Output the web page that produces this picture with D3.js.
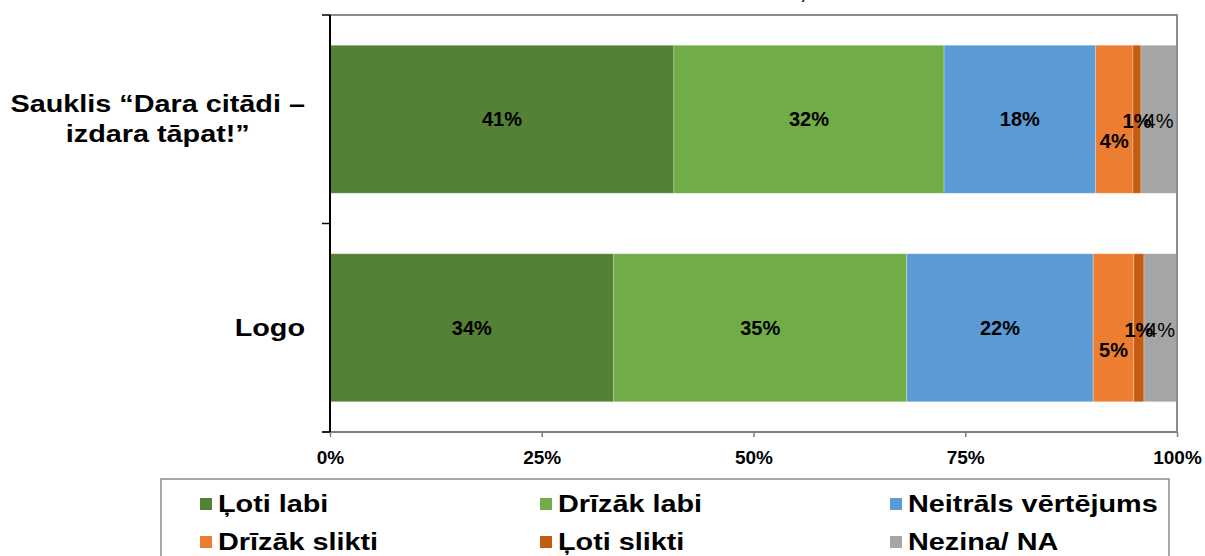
<!DOCTYPE html>
<html>
<head>
<meta charset="utf-8">
<script src="https://cdn.jsdelivr.net/npm/d3@7"></script>
<style>
  html, body { margin: 0; padding: 0; background: #fff; }
  svg { display: block; font-family: "Liberation Sans", Arial, sans-serif; }
</style>
</head>
<body>
<svg id="chart" width="1205" height="556"></svg>
<script>
// ---- data ----
const categories = ["Sauklis “Dara citādi – izdara tāpat!”", "Logo"];
const categoryLines = [["Sauklis “Dara citādi –", "izdara tāpat!”"], ["Logo"]];
const seriesNames = ["Ļoti labi", "Drīzāk labi", "Neitrāls vērtējums", "Drīzāk slikti", "Ļoti slikti", "Nezina/ NA"];
const seriesColors = ["#538135", "#70AD47", "#5B9BD5", "#ED7D31", "#C55A11", "#A5A5A5"];
const valuesSauklis = [40.6, 31.9, 17.9, 4.4, 0.95, 4.25];
const valuesLogo = [33.5, 34.6, 22.0, 4.8, 1.2, 3.9];
const tickValues = [0, 25, 50, 75, 100];
const tickLabels = ["0%", "25%", "50%", "75%", "100%"];

const rows = [valuesSauklis, valuesLogo];

const svg = d3.select("#chart");
const W = 1205, H = 556;
const plot = { left: 330, right: 1177, top: 15, bottom: 432 };

const x = d3.scaleLinear().domain([0, 100]).range([plot.left, plot.right]);
const y = d3.scaleBand().domain(categories).range([plot.top, plot.bottom])
  .paddingInner(0.29).paddingOuter(0.145);

// cut-off title remnant
svg.append("text").attr("x", 803).attr("y", -1).attr("text-anchor", "middle")
  .style("font-size", "20px").style("font-weight", "bold").text(",");

// stacked data
const stacked = [];
rows.forEach((vals, i) => {
  let acc = 0;
  vals.forEach((v, j) => {
    stacked.push({ cat: categories[i], series: j, x0: acc, x1: acc + v, v });
    acc += v;
  });
});

// bars
svg.append("g").selectAll("rect").data(stacked).join("rect")
  .attr("x", d => x(d.x0))
  .attr("y", d => y(d.cat))
  .attr("width", d => x(d.x1) - x(d.x0))
  .attr("height", y.bandwidth())
  .attr("fill", d => seriesColors[d.series])
  .attr("stroke", "rgba(255,255,255,0.35)")
  .attr("stroke-width", 0.8);

// plot frame (top and right gray)
svg.append("path")
  .attr("d", `M${plot.left},${plot.top}H${plot.right}V${plot.bottom}`)
  .attr("fill", "none").attr("stroke", "#8c8c8c").attr("stroke-width", 2);

// x axis
const xAxis = d3.axisBottom(x).tickValues(tickValues).tickSize(5)
  .tickFormat((d, i) => tickLabels[i]);
const gx = svg.append("g").attr("transform", `translate(0,${plot.bottom})`).call(xAxis);
gx.select(".domain").attr("d", `M${plot.left - 8},0H${plot.right}`).attr("stroke", "#7f7f7f").attr("stroke-width", 2);
gx.selectAll(".tick line").attr("stroke", "#7f7f7f").attr("stroke-width", 1.5);
gx.selectAll(".tick text").attr("dy", null).attr("y", 32)
  .style("font-size", "19px").style("font-weight", "bold").attr("fill", "#000")
  .style("font-family", "'Liberation Sans', Arial, sans-serif");

// y axis
const yEdges = [plot.top, (plot.top + plot.bottom) / 2, plot.bottom];
svg.append("line").attr("x1", plot.left).attr("x2", plot.left)
  .attr("y1", plot.top).attr("y2", plot.bottom).attr("stroke", "#000").attr("stroke-width", 2);
svg.append("g").selectAll("line").data(yEdges).join("line")
  .attr("x1", plot.left - 8).attr("x2", plot.left).attr("y1", d => d).attr("y2", d => d)
  .attr("stroke", "#000").attr("stroke-width", 1.5);

// category labels (block right-aligned, lines centred within block)
const stretch = 1.2;
categories.forEach((c, i) => {
  const lines = categoryLines[i];
  const cy = y(c) + y.bandwidth() / 2;
  const lh = 30;
  const g = svg.append("g");
  const texts = lines.map((l, k) => g.append("text")
    .attr("text-anchor", "middle")
    .style("font-size", "24px").style("font-weight", "bold").text(l));
  const maxW = d3.max(texts, t => t.node().getComputedTextLength()) * stretch;
  const rightEdge = 305;
  const cx = rightEdge - maxW / 2;
  texts.forEach((t, k) => {
    const by = cy + (k - (lines.length - 1) / 2) * lh + 8;
    t.attr("transform", `translate(${cx},${by}) scale(${stretch},1)`);
  });
});

// data labels
const labelOffsets = [0, 0, 0, 22, 2, 2];
svg.append("g").selectAll("text").data(stacked).join("text")
  .attr("x", d => (x(d.x0) + x(d.x1)) / 2)
  .attr("y", d => y(d.cat) + y.bandwidth() / 2 + labelOffsets[d.series] + 7)
  .attr("text-anchor", "middle")
  .style("font-size", "20px")
  .style("font-weight", d => d.series === 5 ? "normal" : "bold")
  .attr("fill", "#000")
  .text(d => d3.format(".0f")(d.v) + "%");

// legend
svg.append("rect").attr("x", 161).attr("y", 479).attr("width", 1008).attr("height", 100)
  .attr("fill", "#fff").attr("stroke", "#8c8c8c").attr("stroke-width", 1.5);
const legCols = [200, 540, 890];
const legRows = [504, 542];
const leg = svg.append("g").selectAll("g").data(seriesNames).join("g")
  .attr("transform", (d, i) => `translate(${legCols[i % 3]},${legRows[Math.floor(i / 3)]})`);
leg.append("rect").attr("x", 0).attr("y", -6).attr("width", 12).attr("height", 12)
  .attr("fill", (d, i) => seriesColors[i]);
leg.append("text").attr("transform", `translate(18,8) scale(${stretch},1)`)
  .style("font-size", "24px").style("font-weight", "bold").text(d => d);
</script>
</body>
</html>
